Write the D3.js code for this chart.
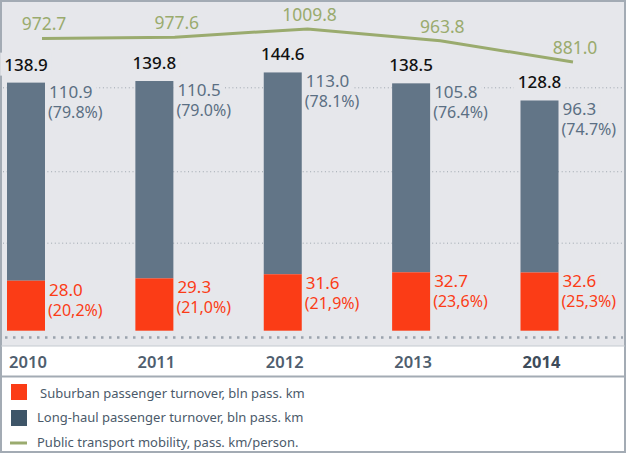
<html>
<head>
<meta charset="utf-8">
<script src="https://d3js.org/d3.v7.js"></script>
<style>
  body { margin: 0; background: #fff; }
  text { font-family: "Noto Sans", sans-serif; }
</style>
</head>
<body>
<svg width="627" height="454"></svg>
<script>
// data
var years = ["2010", "2011", "2012", "2013", "2014"];
var suburban = [28.0, 29.3, 31.6, 32.7, 32.6];
var longHaul = [110.9, 110.5, 113.0, 105.8, 96.3];
var totals = [138.9, 139.8, 144.6, 138.5, 128.8];
var suburbanShare = ["(20,2%)", "(21,0%)", "(21,9%)", "(23,6%)", "(25,3%)"];
var longHaulShare = ["(79.8%)", "(79.0%)", "(78.1%)", "(76.4%)", "(74.7%)"];
var mobility = [972.7, 977.6, 1009.8, 963.8, 881.0];
var gridValues = [49, 89, 136];
var legendItems = [
  "Suburban passenger turnover, bln pass. km",
  "Long-haul passenger turnover, bln pass. km",
  "Public transport mobility, pass. km/person."
];

var RED = "#fb3c16", GREY = "#627587", GREEN = "#9aab6e";

var svg = d3.select("svg");
var bg = svg.append("g");
var grid = svg.append("g");
var labelBg = svg.append("g");
var bars = svg.append("g");
var labels = svg.append("g");
var lineLayer = svg.append("g");

// frame
bg.append("rect").attr("x", 1).attr("y", 1).attr("width", 624).attr("height", 345)
  .style("fill", "#e6e7eb");
bg.append("rect").attr("x", 1).attr("y", 1).attr("width", 624).attr("height", 451)
  .style("fill", "none").style("stroke", "#a3abb4").style("stroke-width", 2);
bg.append("line").attr("x1", 1).attr("x2", 625).attr("y1", 346).attr("y2", 346)
  .style("stroke", "#c5cad0").style("stroke-width", 1);
bg.append("line").attr("x1", 1).attr("x2", 625).attr("y1", 376.5).attr("y2", 376.5)
  .style("stroke", "#a3abb4").style("stroke-width", 2);

var x = d3.scalePoint().domain(years).range([26, 539.5]);
var xLine = d3.scalePoint().domain(years).range([42, 573]);
var y = d3.scaleLinear().domain([0, 150]).range([330.7, 62.8]);
var yLine = d3.scaleLinear().domain([881, 1009.8]).range([62, 28.9]);
var bw = 38;

// gridlines
grid.selectAll(".g").data(gridValues).enter().append("line")
  .attr("x1", 3).attr("x2", 623)
  .attr("y1", function(d) { return y(d); }).attr("y2", function(d) { return y(d); })
  .style("stroke", "#9ea6af").style("stroke-width", 1).style("stroke-dasharray", "1,2.7");
grid.append("line").attr("x1", 5).attr("x2", 623).attr("y1", 337.5).attr("y2", 337.5)
  .style("stroke", "#9aa3ad").style("stroke-width", 2.5).style("stroke-dasharray", "2.5,5.5");

// bars
years.forEach(function(yr, i) {
  var x0 = x(yr) - bw / 2;
  bars.append("rect").attr("x", x0).attr("width", bw)
    .attr("y", y(suburban[i] + longHaul[i])).attr("height", y(suburban[i]) - y(suburban[i] + longHaul[i]))
    .style("fill", GREY);
  bars.append("rect").attr("x", x0).attr("width", bw)
    .attr("y", y(suburban[i])).attr("height", y(0) - y(suburban[i]))
    .style("fill", RED);

  var top = y(suburban[i] + longHaul[i]);
  labels.append("text").attr("x", x(yr)).attr("y", top - 12)
    .attr("text-anchor", "middle").style("font-size", "17px").style("font-weight", 500).style("fill", "#111")
    .text(totals[i].toFixed(1));

  labels.append("text").attr("x", x0 + bw + 4).attr("y", top + 15)
    .style("font-size", "17px").style("fill", "#5b6f83").text(longHaul[i].toFixed(1));
  labels.append("text").attr("x", x0 + bw + 3).attr("y", top + 35)
    .style("font-size", "16px").style("fill", "#5b6f83").text(longHaulShare[i]);

  var rtop = y(suburban[i]);
  labels.append("text").attr("x", x0 + bw + 4).attr("y", rtop + 15)
    .style("font-size", "17px").style("fill", RED).text(suburban[i].toFixed(1));
  labels.append("text").attr("x", x0 + bw + 3).attr("y", rtop + 35)
    .style("font-size", "16px").style("fill", RED).text(suburbanShare[i]);

  // x axis label
  svg.append("text").attr("x", x(yr) + 2).attr("y", 368).attr("text-anchor", "middle")
    .style("font-size", "16.5px").style("font-weight", i == 4 ? 700 : 600)
    .style("fill", i == 4 ? "#3e4c5a" : "#4f5e6e").text(yr);
});

// label backgrounds hide the gridlines
labels.selectAll("text").each(function() {
  var b = this.getBBox();
  labelBg.append("rect").attr("x", b.x - 4).attr("y", b.y).attr("width", b.width + 8).attr("height", b.height)
    .style("fill", "#e6e7eb");
});

// mobility line
var line = d3.line()
  .x(function(d, i) { return xLine(years[i]); })
  .y(function(d) { return yLine(d); });
lineLayer.append("path").datum(mobility).attr("d", line)
  .style("fill", "none").style("stroke", GREEN).style("stroke-width", 3);
lineLayer.selectAll(".ml").data(mobility).enter().append("text")
  .attr("x", function(d, i) { return xLine(years[i]) + 2; })
  .attr("y", function(d) { return yLine(d) - 8; })
  .attr("text-anchor", "middle").style("font-size", "17.5px").style("fill", GREEN)
  .text(function(d) { return d.toFixed(1); });

// legend
var leg = svg.append("g");
leg.append("rect").attr("x", 11).attr("y", 384).attr("width", 16).attr("height", 16).style("fill", RED);
leg.append("rect").attr("x", 11).attr("y", 410).attr("width", 16).attr("height", 16).style("fill", "#3e5568");
leg.append("line").attr("x1", 10).attr("x2", 27).attr("y1", 443).attr("y2", 443)
  .style("stroke", GREEN).style("stroke-width", 3);
var lx = [40, 37, 37], ly = [398, 422, 447];
legendItems.forEach(function(t, i) {
  leg.append("text").attr("x", lx[i]).attr("y", ly[i])
    .style("font-size", "13px").style("fill", "#4b5a6a").text(t);
});
</script>
</body>
</html>
